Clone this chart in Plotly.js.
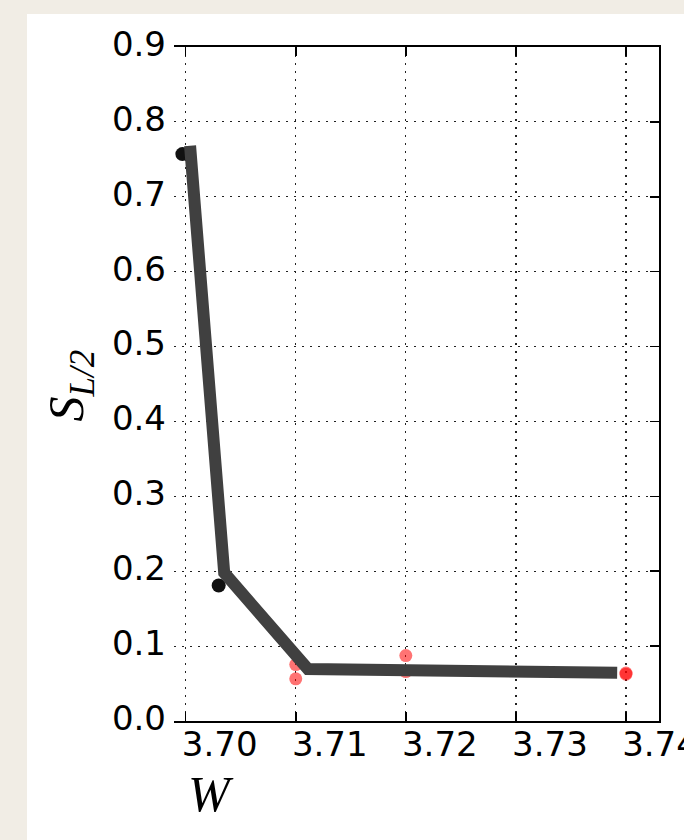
<!DOCTYPE html>
<html>
<head>
<meta charset="utf-8">
<script src="https://cdn.plot.ly/plotly-3.0.1.min.js"></script>
<style>
  html, body { margin: 0; padding: 0; background: #f1ede5; }
  #panel { position: absolute; left: 27px; top: 14px; width: 657px; height: 826px; background: #ffffff; }
  #chart { position: absolute; left: 0; top: 0; width: 684px; height: 840px; }
</style>
</head>
<body>
<div id="panel"></div>
<div id="chart"></div>
<script>
// ---- data ----
const blackW = [3.6997, 3.7030];
const blackS = [0.757, 0.181];

const redW = [3.71, 3.71, 3.72, 3.72, 3.74, 3.74];
const redS = [0.0754, 0.0563, 0.0874, 0.066, 0.0640, 0.0625];

const lineW = [3.7004, 3.7035, 3.7111, 3.7392];
const lineS = [0.768, 0.198, 0.0694, 0.0645];

const xTickVals = [3.70, 3.71, 3.72, 3.73, 3.74];
const xTickText = ["3.70", "3.71", "3.72", "3.73", "3.74"];
const yTickVals = [0.0, 0.1, 0.2, 0.3, 0.4, 0.5, 0.6, 0.7, 0.8, 0.9];
const yTickText = ["0.0", "0.1", "0.2", "0.3", "0.4", "0.5", "0.6", "0.7", "0.8", "0.9"];

const xRange = [3.69894, 3.7430];
const yRange = [0, 0.9];

const tickFont = { family: "DejaVu Sans", size: 34, color: "#000" };

const traces = [
  {
    x: redW, y: redS, type: "scatter", mode: "markers",
    marker: { size: 13, color: "rgba(255,0,0,0.55)", line: { width: 0 } },
    hoverinfo: "skip", showlegend: false
  },
  {
    x: blackW, y: blackS, type: "scatter", mode: "markers",
    marker: { size: 14, color: "#111111", line: { width: 0 } },
    hoverinfo: "skip", showlegend: false
  },
  {
    x: lineW, y: lineS, type: "scatter", mode: "lines",
    line: { width: 12, color: "#404040" },
    hoverinfo: "skip", showlegend: false
  },
  {
    x: [xRange[0]], y: [0], yaxis: "y2", type: "scatter", mode: "markers",
    marker: { size: 1, opacity: 0 }, hoverinfo: "skip", showlegend: false
  }
];

const layout = {
  width: 684, height: 840,
  paper_bgcolor: "rgba(0,0,0,0)",
  plot_bgcolor: "rgba(0,0,0,0)",
  margin: { l: 174, r: 25.3, t: 47.3, b: 118.5, pad: 0 },
  showlegend: false,
  xaxis: {
    range: xRange, tickmode: "array", tickvals: xTickVals, ticktext: xTickText,
    showline: true, linecolor: "#000", linewidth: 2, mirror: "ticks",
    ticks: "inside", ticklen: 9, tickwidth: 1.5, tickcolor: "#000",
    showgrid: true, gridcolor: "#222", gridwidth: 1.2, griddash: "2px,6px",
    zeroline: false, tickfont: tickFont, ticklabelshift: 34, ticklabelstandoff: -8,
    ticklabeloverflow: "allow"
  },
  yaxis: {
    range: yRange, tickmode: "array", tickvals: yTickVals, ticktext: yTickText,
    showline: false, ticks: "",
    showgrid: true, gridcolor: "#222", gridwidth: 1.2, griddash: "2px,6px",
    zeroline: false, tickfont: tickFont, ticklabelstandoff: 7, ticklabelshift: -3,
    ticklabeloverflow: "allow"
  },
  yaxis2: {
    range: yRange, overlaying: "y", side: "right",
    tickmode: "array", tickvals: yTickVals,
    showline: true, linecolor: "#000", linewidth: 2,
    ticks: "inside", ticklen: 9, tickwidth: 1.5, tickcolor: "#000",
    showticklabels: false, showgrid: false, zeroline: false
  },
  annotations: [
    {
      text: "<i>W</i>", xref: "paper", yref: "paper",
      x: 0.0763, y: -0.109, xanchor: "center", yanchor: "middle",
      showarrow: false, font: { family: "Liberation Serif", size: 50, color: "#000" }
    },
    {
      text: "<i>S</i><sub><i>L/2</i></sub>", xref: "paper", yref: "paper",
      x: -0.2146, y: 0.4976, xanchor: "center", yanchor: "middle", textangle: -90,
      showarrow: false, font: { family: "Liberation Serif", size: 50, color: "#000" }
    }
  ]
};

Plotly.newPlot("chart", traces, layout, { staticPlot: true, displayModeBar: false });
</script>
</body>
</html>
